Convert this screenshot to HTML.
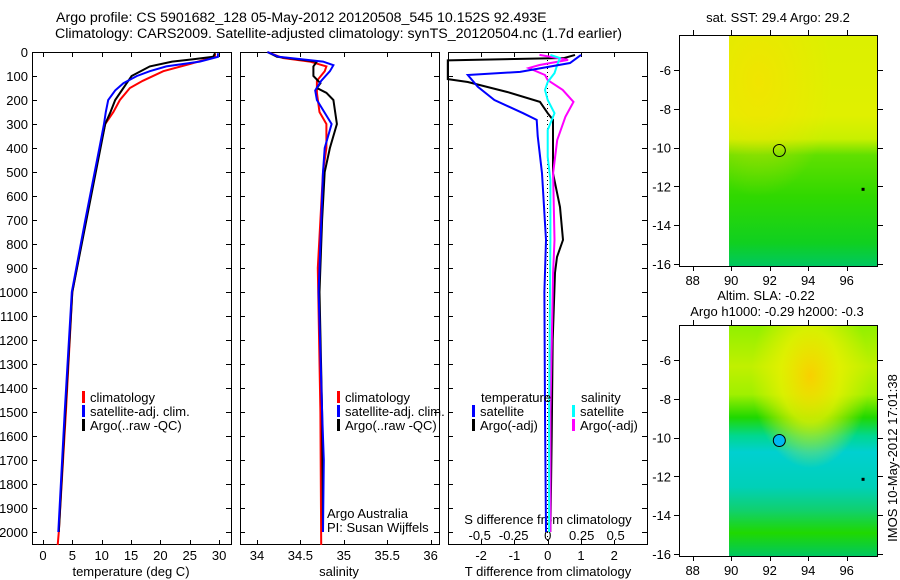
<!DOCTYPE html>
<html><head><meta charset="utf-8"><style>
body{margin:0;background:#fff;}
svg{display:block;font-family:"Liberation Sans",sans-serif;font-size:13px;}
</style></head><body>
<svg id="c" width="900" height="580" xmlns="http://www.w3.org/2000/svg">
<defs>
<linearGradient id="g1" x1="0" y1="0" x2="0" y2="1">
<stop offset="0" stop-color="#dcf000"/><stop offset="0.35" stop-color="#e0f000"/><stop offset="0.45" stop-color="#c8f000"/>
<stop offset="0.52" stop-color="#60e000"/><stop offset="0.7" stop-color="#30d800"/><stop offset="0.9" stop-color="#10d020"/><stop offset="1" stop-color="#00c860"/></linearGradient>
<radialGradient id="r1" cx="0.2" cy="0.2" r="0.5"><stop offset="0" stop-color="#f8e000" stop-opacity="0.7"/><stop offset="1" stop-color="#f8e000" stop-opacity="0"/></radialGradient>
<linearGradient id="g2" x1="0" y1="0" x2="0" y2="1">
<stop offset="0" stop-color="#90f000"/><stop offset="0.18" stop-color="#c0f000"/><stop offset="0.3" stop-color="#a0f000"/>
<stop offset="0.4" stop-color="#20d800"/><stop offset="0.48" stop-color="#00d890"/><stop offset="0.55" stop-color="#00d0d0"/>
<stop offset="0.7" stop-color="#00d0b8"/><stop offset="0.8" stop-color="#10d070"/><stop offset="0.9" stop-color="#20d800"/><stop offset="1" stop-color="#00c860"/></linearGradient>
<radialGradient id="r2" cx="0.55" cy="0.22" r="0.4"><stop offset="0" stop-color="#f8d000"/><stop offset="0.5" stop-color="#e8f000" stop-opacity="0.8"/><stop offset="1" stop-color="#e8f000" stop-opacity="0"/></radialGradient>
</defs>
</svg>
<script>
const depthTicks=[0,100,200,300,400,500,600,700,800,900,1000,1100,1200,1300,1400,1500,1600,1700,1800,1900,2000];
const tempTicks=[0,5,10,15,20,25,30];
const salTicks=[34,34.5,35,35.5,36];
const tdTicks=[-2,-1,0,1,2];
const sdTicks=[-0.5,-0.25,0,0.25,0.5];
const sdLabels=["-0.5","-0.25","0","0.25","0.5"];
// temperature profiles
const tDepthArgo=[5,20,30,40,60,100,150,200,250,300,400,500,700,1000,1500,2000];
const tArgo=[29.3,29,25.6,22,18.2,15.1,13.7,12.3,11.5,10.6,9.8,9.0,7.4,5.0,3.8,2.7];
const tDepthClim=[5,20,50,80,120,150,200,250,300,400,500,700,1000,1500,2000,2054];
const tClim=[29.3,29.3,25,20.5,17,14.8,13.1,12,10.6,9.7,8.9,7.3,5.0,3.9,2.7,2.5];
const tDepthSat=[5,20,40,60,80,100,130,160,200,250,300,400,500,700,1000,1500,2000];
const tSat=[29.8,29.8,26.7,21,18.2,16,13.7,12.3,11.1,10.7,10.4,9.6,8.8,7.2,4.9,3.7,2.6];
// salinity profiles
const sDepthArgo=[0,20,40,60,100,130,150,170,200,300,400,500,700,1000,1500,2000];
const sArgo=[34.12,34.23,34.69,34.65,34.65,34.73,34.69,34.8,34.88,34.92,34.84,34.78,34.75,34.72,34.75,34.76];
const sDepthClim=[0,25,40,60,80,120,170,250,300,400,500,700,900,1500,2054];
const sClim=[34.12,34.3,34.61,34.8,34.78,34.69,34.69,34.72,34.8,34.8,34.76,34.73,34.7,34.73,34.74];
const sDepthSat=[0,20,40,55,80,120,160,200,300,400,500,800,1000,1500,1700,2000];
const sSat=[34.12,34.25,34.76,34.88,34.84,34.74,34.67,34.69,34.86,34.78,34.76,34.73,34.71,34.75,34.77,34.76];
// differences
const dDepthTSat=[12,46,83,96,145,200,255,283,350,505,783,1000,1500,2000];
const dTSat=[1.0,0.67,-0.83,-2.4,-2.1,-1.6,-0.74,-0.33,-0.3,-0.17,-0.05,-0.1,-0.08,-0.05];
const dDepthTArgo=[12,25,35,113,125,167,208,255,283,505,646,783,854,920,1200,1600,2000];
const dTArgo=[0.82,0.5,-3,-3,-2.4,-1.2,-0.23,0,0.16,0.16,0.37,0.46,0.28,0.22,0.15,0.12,0.08];
const dDepthSArgo=[12,33,54,67,96,117,158,208,270,367,505,783,920,1500,2000];
const dSArgo=[-0.06,0.15,-0.06,-0.14,-0.02,0,0.11,0.19,0.13,0.07,0.04,0.05,0.04,0.02,0.02];
const dDepthSSat=[12,25,54,88,125,158,200,255,325,437,533,783,1500,2000];
const dSSat=[0.02,0.09,0.07,0.05,0,-0.02,0,0.05,0,0,0.02,0.02,0.01,0.01];
const lonTicks=[88,90,92,94,96];
const latTicks=[-6,-8,-10,-12,-14,-16];

const svg=document.getElementById('c');
const NS='http://www.w3.org/2000/svg';
function el(tag,attrs,parent){const e=document.createElementNS(NS,tag);for(const k in attrs)e.setAttribute(k,attrs[k]);(parent||svg).appendChild(e);return e;}
function txt(x,y,s,anchor,parent){const t=el('text',{x:x,y:y,'text-anchor':anchor||'start',fill:'#000'},parent);t.textContent=s;return t;}
const Y=d=>52+d*0.24;
const P1={x0:32,x1:231},P2={x0:240,x1:439},P3={x0:448,x1:647};
const xT=v=>43+v*5.87, xS=v=>257+(v-34)*86.8, xTD=v=>547.7+v*33.3, xSD=v=>547.7+v*136;

const t1=txt(56,22,'Argo profile: CS 5901682_128 05-May-2012 20120508_545 10.152S 92.493E');

t1.setAttribute('font-size','14.2');
const t2=txt(55,38,'Climatology: CARS2009. Satellite-adjusted climatology: synTS_20120504.nc (1.7d earlier)');

t2.setAttribute('font-size','14.2');

function panel(P,name){
  const g=el('g',{});
  
  
  el('rect',{x:P.x0+0.5,y:52.5,width:P.x1-P.x0,height:492,fill:'none',stroke:'#000','stroke-width':1},g);
  depthTicks.forEach(d=>{const y=Math.round(Y(d))+0.5;
    el('line',{x1:P.x0,y1:y,x2:P.x0+5,y2:y,stroke:'#000'},g);
    el('line',{x1:P.x1-5,y1:y,x2:P.x1,y2:y,stroke:'#000'},g);});
  return g;
}
function xticks(g,ticks,fx,labels,ly){
  ticks.forEach((v,i)=>{const x=Math.round(fx(v))+0.5;
    el('line',{x1:x,y1:545,x2:x,y2:540,stroke:'#000'},g);
    el('line',{x1:x,y1:52,x2:x,y2:57,stroke:'#000'},g);
    if(labels){const t=txt(fx(v),ly,labels[i],'middle',g);}
  });
}
function line(g,ds,vs,fx,color,name){
  const pts=ds.map((d,i)=>fx(vs[i]).toFixed(1)+','+Y(d).toFixed(1)).join(' ');
  const p=el('polyline',{points:pts,fill:'none',stroke:color,'stroke-width':2},g);
  
  
}
function legend(g,x,y,color,label){
  el('rect',{x:x,y:y-11,width:3,height:12,fill:color},g);
  const t=txt(x+8,y,label,'start',g);
  
  
}

// Panel 1
const g1=panel(P1,'temperature-panel');
depthTicks.forEach(d=>{const t=txt(28,Y(d)+5,String(d),'end',g1);});
xticks(g1,tempTicks,xT,tempTicks.map(String),560);
txt(131,576,'temperature (deg C)','middle',g1);
line(g1,tDepthClim,tClim,xT,'#ff0000','climatology-line');
line(g1,tDepthArgo,tArgo,xT,'#000000','argo-line');
line(g1,tDepthSat,tSat,xT,'#0000ff','satellite-line');
legend(g1,82,402,'#ff0000','climatology');
legend(g1,82,416,'#0000ff','satellite-adj. clim.');
legend(g1,82,430,'#000','Argo(..raw -QC)');

// Panel 2
const g2=panel(P2,'salinity-panel');
xticks(g2,salTicks,xS,salTicks.map(String),560);
txt(339,576,'salinity','middle',g2);
line(g2,sDepthClim,sClim,xS,'#ff0000','climatology-line');
line(g2,sDepthArgo,sArgo,xS,'#000000','argo-line');
line(g2,sDepthSat,sSat,xS,'#0000ff','satellite-line');
legend(g2,337,402,'#ff0000','climatology');
legend(g2,337,416,'#0000ff','satellite-adj. clim.');
legend(g2,337,430,'#000','Argo(..raw -QC)');
txt(327,518,'Argo Australia','start',g2);
txt(327,532,'PI: Susan Wijffels','start',g2);

// Panel 3
const g3=panel(P3,'difference-panel');
xticks(g3,tdTicks,xTD,tdTicks.map(String),560);
sdTicks.forEach((v,i)=>{const t=txt(xSD(v),540,sdLabels[i],'middle',g3);});
txt(548,524,'S difference from climatology','middle',g3);
txt(548,576,'T difference from climatology','middle',g3);
el('line',{x1:547.5,y1:52,x2:547.5,y2:545,stroke:'#000','stroke-dasharray':'1,3'},g3);
line(g3,dDepthTArgo,dTArgo,xTD,'#000000','t-argo-diff-line');
line(g3,dDepthSArgo,dSArgo,xSD,'#ff00ff','s-argo-diff-line');
line(g3,dDepthSSat,dSSat,xSD,'#00ffff','s-satellite-diff-line');
line(g3,dDepthTSat,dTSat,xTD,'#0000ff','t-satellite-diff-line');
txt(481,402,'temperature','start',g3);
txt(581,402,'salinity','start',g3);
legend(g3,472,416,'#0000ff','satellite');
legend(g3,472,430,'#000','Argo(-adj)');
legend(g3,572,416,'#00ffff','satellite');
legend(g3,572,430,'#ff00ff','Argo(-adj)');

// Maps
const xL=v=>692.7+(v-88)*19.25;
function map(top,grad,rad,circleFill,name){
  const g=el('g',{});
  
  
  const yL=v=>top+35+(-6-v)*19.4;
  const bot=top+231;
  el('rect',{x:729,y:top,width:148,height:231,fill:'url(#'+grad+')'},g);
  el('rect',{x:729,y:top,width:148,height:231,fill:'url(#'+rad+')'},g);
  el('rect',{x:679.5,y:top+0.5,width:198,height:231,fill:'none',stroke:'#000'},g);
  lonTicks.forEach(v=>{const x=Math.round(xL(v))+0.5;
    el('line',{x1:x,y1:bot,x2:x,y2:bot+5,stroke:'#000'},g);
    el('line',{x1:x,y1:top,x2:x,y2:top-5,stroke:'#000'},g);
    const t=txt(xL(v),bot+19,String(v),'middle',g);});
  latTicks.forEach(v=>{const y=Math.round(yL(v))+0.5;
    el('line',{x1:679,y1:y,x2:674,y2:y,stroke:'#000'},g);
    el('line',{x1:878,y1:y,x2:883,y2:y,stroke:'#000'},g);
    const t=txt(671,yL(v)+5,String(v),'end',g);});
  const c=el('circle',{cx:xL(92.5),cy:yL(-10.15),r:6,fill:circleFill,stroke:'#000'},g);
  
  
  el('rect',{x:xL(96.85)-1.5,y:yL(-12.15)-1.5,width:3,height:3,fill:'#000'},g);
  return g;
}
const m1=map(35,'g1','r1','none','sst-map');
txt(778,22,'sat. SST: 29.4  Argo: 29.2','middle',m1);
const m2=map(325,'g2','r2','#00b8f0','sla-map');
txt(766,300,'Altim. SLA: -0.22','middle',m2);
txt(777,316,'Argo h1000: -0.29 h2000: -0.3','middle',m2);
const v=txt(0,0,'IMOS 10-May-2012 17:01:38','middle');
v.setAttribute('transform','translate(897,458) rotate(-90)');


</script>
</body></html>
